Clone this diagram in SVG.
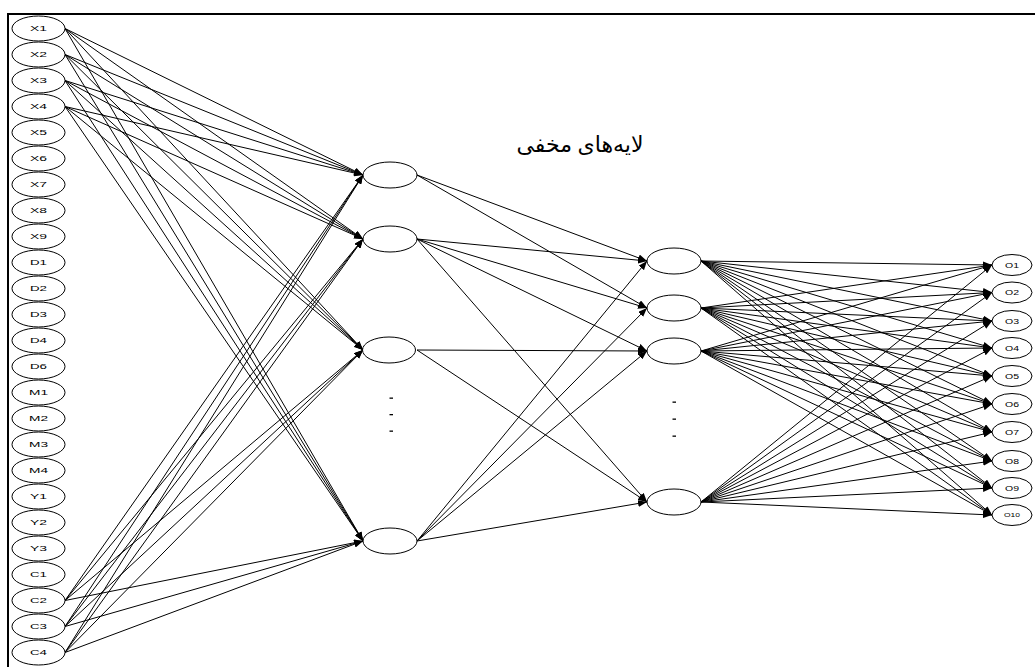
<svg xmlns="http://www.w3.org/2000/svg" width="1035" height="667" viewBox="0 0 1035 667">
<style>
.n ellipse{fill:#fff;stroke:#000;stroke-width:1}
.n text{font-family:"Liberation Sans",Arial,sans-serif;font-size:8px;fill:#000;text-anchor:middle}
.o text{font-size:7px}
#edges line{stroke:#000;stroke-width:1;marker-end:url(#a)}
.dot{fill:#000}
</style>
<defs>
<marker id="a" markerWidth="9" markerHeight="7" refX="9" refY="3.5" orient="auto" markerUnits="userSpaceOnUse"><path d="M0,0L9,3.5L0,7z" fill="#000"/></marker>
</defs>
<rect width="1035" height="667" fill="#fff"/>
<path d="M8,667V14H1035" fill="none" stroke="#000" stroke-width="2"/>
<text x="580" y="152" font-family="'Liberation Serif','DejaVu Sans',serif" font-size="22" text-anchor="middle" direction="rtl">لایه‌های مخفی</text>
<g id="edges">
<line x1="65" y1="28.5" x2="363" y2="175"/><line x1="65" y1="28.5" x2="363" y2="239"/><line x1="65" y1="28.5" x2="363" y2="350"/><line x1="65" y1="28.5" x2="363" y2="541"/>
<line x1="65" y1="54.5" x2="363" y2="175"/><line x1="65" y1="54.5" x2="363" y2="239"/><line x1="65" y1="54.5" x2="363" y2="350"/><line x1="65" y1="54.5" x2="363" y2="541"/>
<line x1="65" y1="80.5" x2="363" y2="175"/><line x1="65" y1="80.5" x2="363" y2="239"/><line x1="65" y1="80.5" x2="363" y2="350"/><line x1="65" y1="80.5" x2="363" y2="541"/>
<line x1="65" y1="106.5" x2="363" y2="175"/><line x1="65" y1="106.5" x2="363" y2="239"/><line x1="65" y1="106.5" x2="363" y2="350"/><line x1="65" y1="106.5" x2="363" y2="541"/>
<line x1="65" y1="600.5" x2="363" y2="175"/><line x1="65" y1="600.5" x2="363" y2="239"/><line x1="65" y1="600.5" x2="363" y2="350"/><line x1="65" y1="600.5" x2="363" y2="541"/>
<line x1="65" y1="626.5" x2="363" y2="175"/><line x1="65" y1="626.5" x2="363" y2="239"/><line x1="65" y1="626.5" x2="363" y2="350"/><line x1="65" y1="626.5" x2="363" y2="541"/>
<line x1="65" y1="652.5" x2="363" y2="175"/><line x1="65" y1="652.5" x2="363" y2="239"/><line x1="65" y1="652.5" x2="363" y2="350"/><line x1="65" y1="652.5" x2="363" y2="541"/>
<line x1="417" y1="175" x2="647" y2="261"/><line x1="417" y1="175" x2="647" y2="308"/>
<line x1="417" y1="239" x2="647" y2="261"/><line x1="417" y1="239" x2="647" y2="308"/><line x1="417" y1="239" x2="647" y2="351"/><line x1="417" y1="239" x2="647" y2="502"/>
<line x1="417" y1="350" x2="647" y2="351"/><line x1="417" y1="350" x2="647" y2="502"/>
<line x1="417" y1="541" x2="647" y2="261"/><line x1="417" y1="541" x2="647" y2="308"/><line x1="417" y1="541" x2="647" y2="351"/><line x1="417" y1="541" x2="647" y2="502"/>
<line x1="701" y1="261" x2="992" y2="265"/><line x1="701" y1="261" x2="992" y2="292.5"/><line x1="701" y1="261" x2="992" y2="321"/><line x1="701" y1="261" x2="992" y2="348"/><line x1="701" y1="261" x2="992" y2="376"/><line x1="701" y1="261" x2="992" y2="404"/><line x1="701" y1="261" x2="992" y2="432"/><line x1="701" y1="261" x2="992" y2="461"/><line x1="701" y1="261" x2="992" y2="488"/><line x1="701" y1="261" x2="992" y2="515"/>
<line x1="701" y1="308" x2="992" y2="265"/><line x1="701" y1="308" x2="992" y2="292.5"/><line x1="701" y1="308" x2="992" y2="321"/><line x1="701" y1="308" x2="992" y2="348"/><line x1="701" y1="308" x2="992" y2="376"/><line x1="701" y1="308" x2="992" y2="404"/><line x1="701" y1="308" x2="992" y2="432"/><line x1="701" y1="308" x2="992" y2="461"/><line x1="701" y1="308" x2="992" y2="488"/><line x1="701" y1="308" x2="992" y2="515"/>
<line x1="701" y1="351" x2="992" y2="265"/><line x1="701" y1="351" x2="992" y2="292.5"/><line x1="701" y1="351" x2="992" y2="321"/><line x1="701" y1="351" x2="992" y2="348"/><line x1="701" y1="351" x2="992" y2="376"/><line x1="701" y1="351" x2="992" y2="404"/><line x1="701" y1="351" x2="992" y2="432"/><line x1="701" y1="351" x2="992" y2="461"/><line x1="701" y1="351" x2="992" y2="488"/><line x1="701" y1="351" x2="992" y2="515"/>
<line x1="701" y1="502" x2="992" y2="265"/><line x1="701" y1="502" x2="992" y2="292.5"/><line x1="701" y1="502" x2="992" y2="321"/><line x1="701" y1="502" x2="992" y2="348"/><line x1="701" y1="502" x2="992" y2="376"/><line x1="701" y1="502" x2="992" y2="404"/><line x1="701" y1="502" x2="992" y2="432"/><line x1="701" y1="502" x2="992" y2="461"/><line x1="701" y1="502" x2="992" y2="488"/><line x1="701" y1="502" x2="992" y2="515"/>
</g>
<g id="in-X1" class="n"><ellipse cx="38.5" cy="28.5" rx="26.5" ry="12.5"/><text x="38.5" y="31.3" textLength="17" lengthAdjust="spacingAndGlyphs">X1</text></g>
<g id="in-X2" class="n"><ellipse cx="38.5" cy="54.5" rx="26.5" ry="12.5"/><text x="38.5" y="57.3" textLength="17" lengthAdjust="spacingAndGlyphs">X2</text></g>
<g id="in-X3" class="n"><ellipse cx="38.5" cy="80.5" rx="26.5" ry="12.5"/><text x="38.5" y="83.3" textLength="17" lengthAdjust="spacingAndGlyphs">X3</text></g>
<g id="in-X4" class="n"><ellipse cx="38.5" cy="106.5" rx="26.5" ry="12.5"/><text x="38.5" y="109.3" textLength="17" lengthAdjust="spacingAndGlyphs">X4</text></g>
<g id="in-X5" class="n"><ellipse cx="38.5" cy="132.5" rx="26.5" ry="12.5"/><text x="38.5" y="135.3" textLength="17" lengthAdjust="spacingAndGlyphs">X5</text></g>
<g id="in-X6" class="n"><ellipse cx="38.5" cy="158.5" rx="26.5" ry="12.5"/><text x="38.5" y="161.3" textLength="17" lengthAdjust="spacingAndGlyphs">X6</text></g>
<g id="in-X7" class="n"><ellipse cx="38.5" cy="184.5" rx="26.5" ry="12.5"/><text x="38.5" y="187.3" textLength="17" lengthAdjust="spacingAndGlyphs">X7</text></g>
<g id="in-X8" class="n"><ellipse cx="38.5" cy="210.5" rx="26.5" ry="12.5"/><text x="38.5" y="213.3" textLength="17" lengthAdjust="spacingAndGlyphs">X8</text></g>
<g id="in-X9" class="n"><ellipse cx="38.5" cy="236.5" rx="26.5" ry="12.5"/><text x="38.5" y="239.3" textLength="17" lengthAdjust="spacingAndGlyphs">X9</text></g>
<g id="in-D1" class="n"><ellipse cx="38.5" cy="262.5" rx="26.5" ry="12.5"/><text x="38.5" y="265.3" textLength="17" lengthAdjust="spacingAndGlyphs">D1</text></g>
<g id="in-D2" class="n"><ellipse cx="38.5" cy="288.5" rx="26.5" ry="12.5"/><text x="38.5" y="291.3" textLength="17" lengthAdjust="spacingAndGlyphs">D2</text></g>
<g id="in-D3" class="n"><ellipse cx="38.5" cy="314.5" rx="26.5" ry="12.5"/><text x="38.5" y="317.3" textLength="17" lengthAdjust="spacingAndGlyphs">D3</text></g>
<g id="in-D4" class="n"><ellipse cx="38.5" cy="340.5" rx="26.5" ry="12.5"/><text x="38.5" y="343.3" textLength="17" lengthAdjust="spacingAndGlyphs">D4</text></g>
<g id="in-D6" class="n"><ellipse cx="38.5" cy="366.5" rx="26.5" ry="12.5"/><text x="38.5" y="369.3" textLength="17" lengthAdjust="spacingAndGlyphs">D6</text></g>
<g id="in-M1" class="n"><ellipse cx="38.5" cy="392.5" rx="26.5" ry="12.5"/><text x="38.5" y="395.3" textLength="19" lengthAdjust="spacingAndGlyphs">M1</text></g>
<g id="in-M2" class="n"><ellipse cx="38.5" cy="418.5" rx="26.5" ry="12.5"/><text x="38.5" y="421.3" textLength="19" lengthAdjust="spacingAndGlyphs">M2</text></g>
<g id="in-M3" class="n"><ellipse cx="38.5" cy="444.5" rx="26.5" ry="12.5"/><text x="38.5" y="447.3" textLength="19" lengthAdjust="spacingAndGlyphs">M3</text></g>
<g id="in-M4" class="n"><ellipse cx="38.5" cy="470.5" rx="26.5" ry="12.5"/><text x="38.5" y="473.3" textLength="19" lengthAdjust="spacingAndGlyphs">M4</text></g>
<g id="in-Y1" class="n"><ellipse cx="38.5" cy="496.5" rx="26.5" ry="12.5"/><text x="38.5" y="499.3" textLength="17" lengthAdjust="spacingAndGlyphs">Y1</text></g>
<g id="in-Y2" class="n"><ellipse cx="38.5" cy="522.5" rx="26.5" ry="12.5"/><text x="38.5" y="525.3" textLength="17" lengthAdjust="spacingAndGlyphs">Y2</text></g>
<g id="in-Y3" class="n"><ellipse cx="38.5" cy="548.5" rx="26.5" ry="12.5"/><text x="38.5" y="551.3" textLength="17" lengthAdjust="spacingAndGlyphs">Y3</text></g>
<g id="in-C1" class="n"><ellipse cx="38.5" cy="574.5" rx="26.5" ry="12.5"/><text x="38.5" y="577.3" textLength="17" lengthAdjust="spacingAndGlyphs">C1</text></g>
<g id="in-C2" class="n"><ellipse cx="38.5" cy="600.5" rx="26.5" ry="12.5"/><text x="38.5" y="603.3" textLength="17" lengthAdjust="spacingAndGlyphs">C2</text></g>
<g id="in-C3" class="n"><ellipse cx="38.5" cy="626.5" rx="26.5" ry="12.5"/><text x="38.5" y="629.3" textLength="17" lengthAdjust="spacingAndGlyphs">C3</text></g>
<g id="in-C4" class="n"><ellipse cx="38.5" cy="652.5" rx="26.5" ry="12.5"/><text x="38.5" y="655.3" textLength="17" lengthAdjust="spacingAndGlyphs">C4</text></g>
<g id="h1-1" class="n"><ellipse cx="390" cy="175" rx="27" ry="13"/></g>
<g id="h1-2" class="n"><ellipse cx="390" cy="239" rx="27" ry="13"/></g>
<g id="h1-3" class="n"><ellipse cx="389" cy="350" rx="26.5" ry="13"/></g>
<g id="h1-4" class="n"><ellipse cx="390" cy="541" rx="27" ry="13"/></g>
<g id="h1-dots"><rect class="dot" x="389.5" y="397.5" width="3.5" height="1.3"/><rect class="dot" x="389.5" y="414" width="3.5" height="1.3"/><rect class="dot" x="389.5" y="430.5" width="3.5" height="1.3"/></g>
<g id="h2-1" class="n"><ellipse cx="674" cy="261" rx="27" ry="13"/></g>
<g id="h2-2" class="n"><ellipse cx="674" cy="308" rx="27" ry="13"/></g>
<g id="h2-3" class="n"><ellipse cx="674" cy="351" rx="27" ry="13"/></g>
<g id="h2-4" class="n"><ellipse cx="674" cy="502" rx="27" ry="13"/></g>
<g id="h2-dots"><rect class="dot" x="672.5" y="401.5" width="3.5" height="1.3"/><rect class="dot" x="672.5" y="418.5" width="3.5" height="1.3"/><rect class="dot" x="672.5" y="435.5" width="3.5" height="1.3"/></g>
<g id="out-O1" class="n o"><ellipse cx="1012" cy="265" rx="20" ry="10.5"/><text x="1012" y="267.5" textLength="14" lengthAdjust="spacingAndGlyphs">O1</text></g>
<g id="out-O2" class="n o"><ellipse cx="1012" cy="292.5" rx="20" ry="10.5"/><text x="1012" y="295" textLength="14" lengthAdjust="spacingAndGlyphs">O2</text></g>
<g id="out-O3" class="n o"><ellipse cx="1012" cy="321" rx="20" ry="10.5"/><text x="1012" y="323.5" textLength="14" lengthAdjust="spacingAndGlyphs">O3</text></g>
<g id="out-O4" class="n o"><ellipse cx="1012" cy="348" rx="20" ry="10.5"/><text x="1012" y="350.5" textLength="14" lengthAdjust="spacingAndGlyphs">O4</text></g>
<g id="out-O5" class="n o"><ellipse cx="1012" cy="376" rx="20" ry="10.5"/><text x="1012" y="378.5" textLength="14" lengthAdjust="spacingAndGlyphs">O5</text></g>
<g id="out-O6" class="n o"><ellipse cx="1012" cy="404" rx="20" ry="10.5"/><text x="1012" y="406.5" textLength="14" lengthAdjust="spacingAndGlyphs">O6</text></g>
<g id="out-O7" class="n o"><ellipse cx="1012" cy="432" rx="20" ry="10.5"/><text x="1012" y="434.5" textLength="14" lengthAdjust="spacingAndGlyphs">O7</text></g>
<g id="out-O8" class="n o"><ellipse cx="1012" cy="461" rx="20" ry="10.5"/><text x="1012" y="463.5" textLength="14" lengthAdjust="spacingAndGlyphs">O8</text></g>
<g id="out-O9" class="n o"><ellipse cx="1012" cy="488" rx="20" ry="10.5"/><text x="1012" y="490.5" textLength="14" lengthAdjust="spacingAndGlyphs">O9</text></g>
<g id="out-O10" class="n o"><ellipse cx="1012" cy="515" rx="20" ry="10.5"/><text x="1012" y="517" style="font-size:5px" textLength="16" lengthAdjust="spacingAndGlyphs">O10</text></g>
</svg>
